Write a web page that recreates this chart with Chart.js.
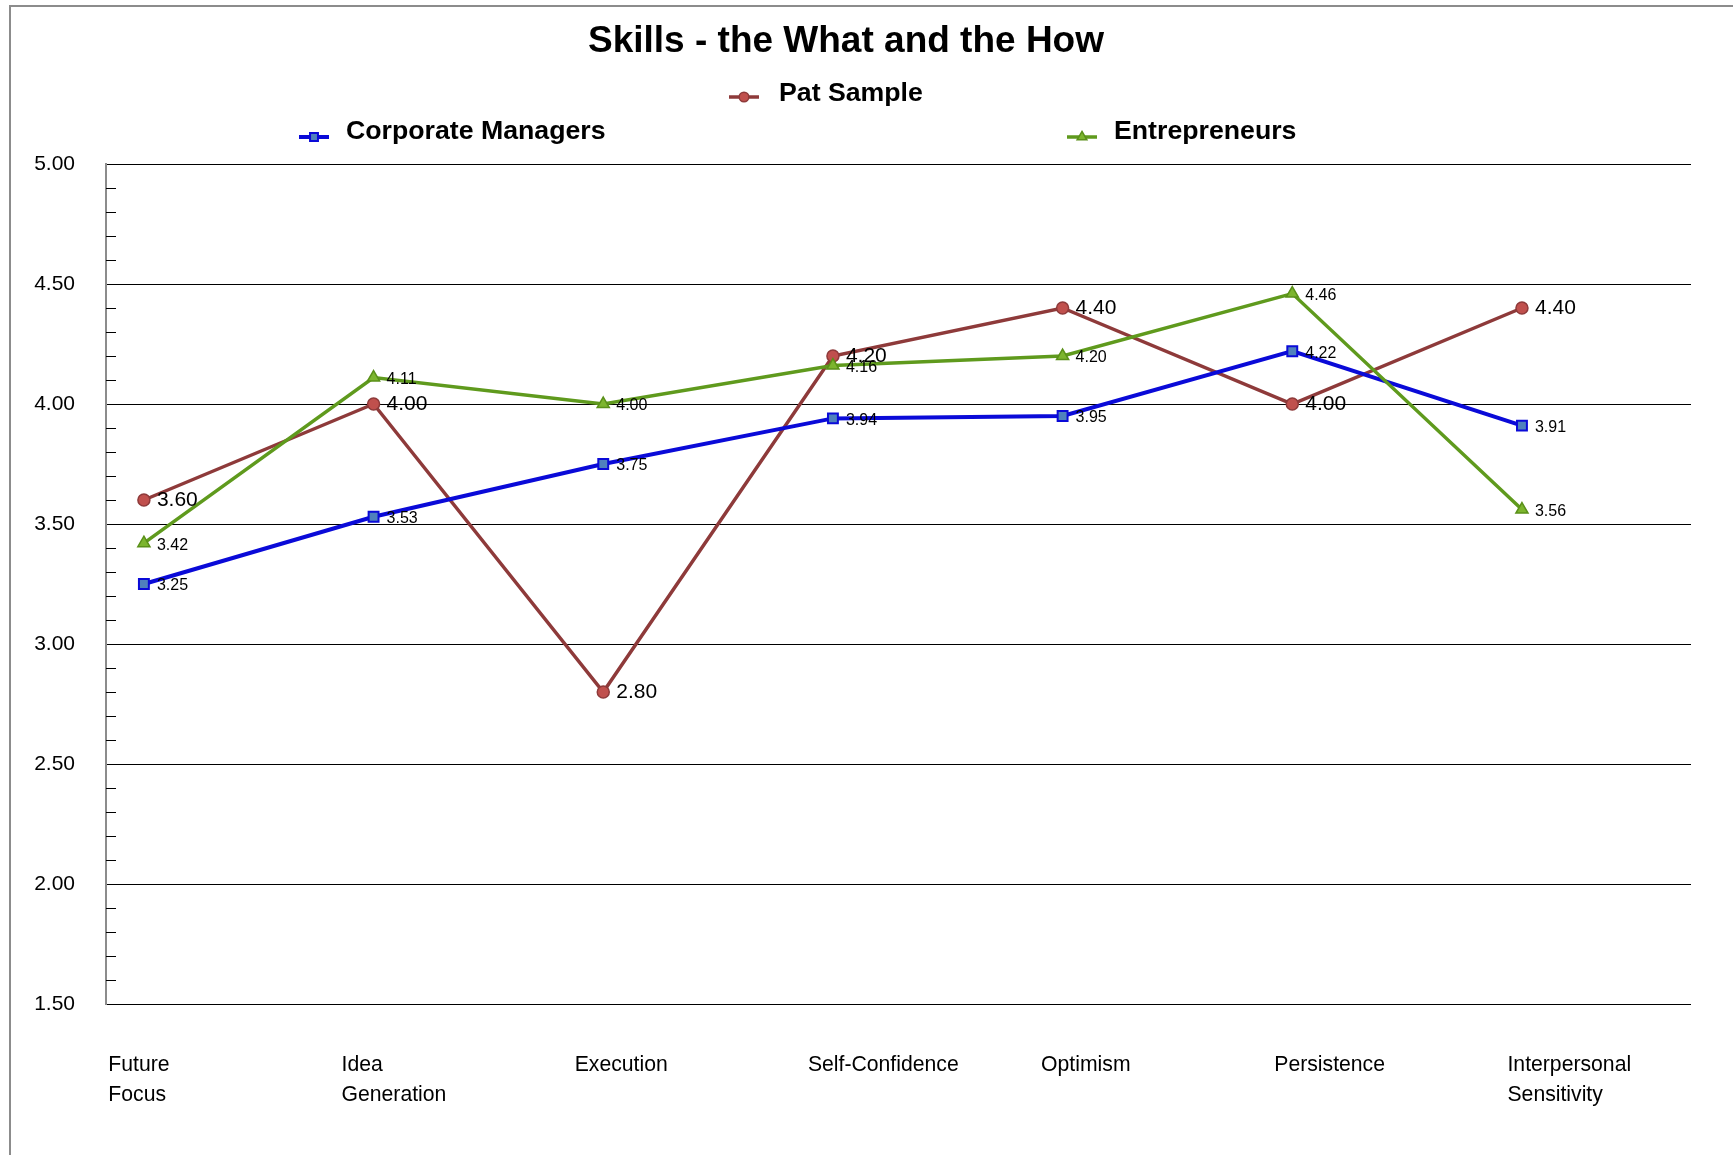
<!DOCTYPE html>
<html>
<head>
<meta charset="utf-8">
<title>Skills - the What and the How</title>
<script src="https://cdn.jsdelivr.net/npm/chart.js@4.4.1/dist/chart.umd.min.js"></script>
<style>
  html, body { margin: 0; padding: 0; background: #fff; }
  #wrap { position: relative; width: 1733px; height: 1155px; }
</style>
</head>
<body>
<div id="wrap"><canvas id="chartLine"></canvas></div>
<script>
// Data dari gambar
const categories = ["Future Focus", "Idea Generation", "Execution", "Self-Confidence", "Optimism", "Persistence", "Interpersonal Sensitivity"];
const patSample = [3.60, 4.00, 2.80, 4.20, 4.40, 4.00, 4.40];
const corporateManagers = [3.25, 3.53, 3.75, 3.94, 3.95, 4.22, 3.91];
const entrepreneurs = [3.42, 4.11, 4.00, 4.16, 4.20, 4.46, 3.56];
const yTicks = [1.5, 2.0, 2.5, 3.0, 3.5, 4.0, 4.5, 5.0];

const FONT = "'Liberation Sans', Arial, sans-serif";
Chart.defaults.font.family = FONT;
Chart.defaults.color = "#000";

function toPoints(values) {
  return values.map((v, i) => ({ x: i, y: v }));
}

// Bingkai, judul dan legenda
const frameAndLegend = {
  id: "frameAndLegend",
  beforeDraw(chart) {
    const ctx = chart.ctx;
    ctx.save();
    ctx.fillStyle = "#8c8c8c";
    ctx.fillRect(9, 5, 2, chart.height);
    ctx.fillRect(9, 5, chart.width, 2);
    ctx.restore();
  },
  afterDraw(chart) {
    const ctx = chart.ctx;
    ctx.save();
    ctx.fillStyle = "#000";
    ctx.textAlign = "center";
    ctx.textBaseline = "middle";
    ctx.font = "bold 37px " + FONT;
    ctx.fillText("Skills - the What and the How", 846, 42);

    const spots = [
      { label: "Pat Sample", mx: 744, my: 97, tx: 779, ty: 94 },
      { label: "Corporate Managers", mx: 314, my: 137, tx: 346, ty: 132 },
      { label: "Entrepreneurs", mx: 1082, my: 137, tx: 1114, ty: 132 }
    ];
    spots.forEach(s => {
      const ds = chart.data.datasets.find(d => d.label === s.label);
      ctx.strokeStyle = ds.borderColor;
      ctx.lineWidth = ds.borderWidth;
      ctx.beginPath();
      ctx.moveTo(s.mx - 15, s.my);
      ctx.lineTo(s.mx + 15, s.my);
      ctx.stroke();
      ctx.fillStyle = ds.pointBackgroundColor;
      ctx.strokeStyle = ds.pointBorderColor;
      ctx.lineWidth = ds.pointBorderWidth;
      Chart.helpers.drawPoint(ctx, {
        pointStyle: ds.pointStyle, radius: ds.pointRadius * 0.8, rotation: 0, borderWidth: ds.pointBorderWidth
      }, s.mx, s.my);
      ctx.fillStyle = "#000";
      ctx.textAlign = "left";
      ctx.textBaseline = "middle";
      ctx.font = "bold 26.7px " + FONT;
      ctx.fillText(s.label, s.tx, s.ty);
    });
    ctx.restore();
  }
};

// Tick kecil di sumbu Y dan label nilai
const minorTicksAndLabels = {
  id: "minorTicksAndLabels",
  afterDatasetsDraw(chart) {
    const ctx = chart.ctx;
    const y = chart.scales.y;
    const left = chart.chartArea.left;
    ctx.save();
    ctx.strokeStyle = "#000";
    ctx.lineWidth = 1;
    for (let k = 0; k < yTicks.length - 1; k++) {
      const step = (yTicks[k + 1] - yTicks[k]) / 5;
      for (let j = 1; j < 5; j++) {
        const py = Math.round(y.getPixelForValue(yTicks[k] + step * j)) + 0.5;
        ctx.beginPath();
        ctx.moveTo(left, py);
        ctx.lineTo(left + 10, py);
        ctx.stroke();
      }
    }

    chart.data.datasets.forEach((ds, di) => {
      const meta = chart.getDatasetMeta(di);
      ctx.fillStyle = "#000";
      ctx.textAlign = "left";
      ctx.textBaseline = "middle";
      ctx.font = ds.labelSize + "px " + FONT;
      meta.data.forEach((pt, i) => {
        ctx.fillText(ds.data[i].y.toFixed(2), pt.x + 13, pt.y + ds.labelShift);
      });
    });
    ctx.restore();
  }
};

const ctx = document.getElementById("chartLine").getContext("2d");
new Chart(ctx, {
  type: "line",
  data: {
    datasets: [
      {
        label: "Entrepreneurs",
        data: toPoints(entrepreneurs),
        borderColor: "#5f9a1d",
        borderWidth: 3.5,
        pointStyle: "triangle",
        pointRadius: 7,
        pointBackgroundColor: "#7cb52e",
        pointBorderColor: "#5a9019",
        pointBorderWidth: 1.5,
        labelSize: 16,
        labelShift: 2
      },
      {
        label: "Corporate Managers",
        data: toPoints(corporateManagers),
        borderColor: "#0a0ad8",
        borderWidth: 4,
        pointStyle: "rect",
        pointRadius: 7,
        pointBackgroundColor: "#4f81bd",
        pointBorderColor: "#0a0ad8",
        pointBorderWidth: 2,
        labelSize: 16,
        labelShift: 2
      },
      {
        label: "Pat Sample",
        data: toPoints(patSample),
        borderColor: "#8e3a3a",
        borderWidth: 3.5,
        pointStyle: "circle",
        pointRadius: 6,
        pointBackgroundColor: "#c0504d",
        pointBorderColor: "#8e3a3a",
        pointBorderWidth: 1.5,
        labelSize: 21,
        labelShift: 0
      }
    ]
  },
  options: {
    responsive: true,
    maintainAspectRatio: false,
    animation: false,
    layout: { padding: { top: 164, left: 10, right: 42, bottom: 0 } },
    plugins: {
      legend: { display: false },
      title: { display: false },
      tooltip: { enabled: false }
    },
    elements: { line: { tension: 0 } },
    scales: {
      // sumbu untuk posisi titik
      x: {
        type: "linear",
        display: false,
        min: -0.165,
        max: 6.736
      },
      // sumbu untuk label kategori
      xLabels: {
        type: "linear",
        position: "bottom",
        min: -0.01,
        max: 6.787,
        grid: { display: false, drawTicks: false },
        border: { display: false },
        afterBuildTicks(scale) {
          scale.ticks = categories.map((c, i) => ({ value: i }));
        },
        afterFit(scale) {
          scale.height = 151;
          scale.paddingLeft = 0;
          scale.paddingRight = 0;
        },
        ticks: {
          autoSkip: false,
          maxRotation: 0,
          align: "start",
          padding: 46,
          font: { size: 21.2, lineHeight: 1.42 },
          callback: (v) => categories[v] ? categories[v].split(" ") : ""
        }
      },
      y: {
        min: yTicks[0],
        max: yTicks[yTicks.length - 1],
        afterBuildTicks(scale) {
          scale.ticks = yTicks.map(v => ({ value: v }));
        },
        afterFit(scale) {
          scale.width = 96;
          scale.paddingTop = 0;
          scale.paddingBottom = 0;
        },
        grid: { color: "#000", lineWidth: 1, drawTicks: false },
        border: { display: true, color: "#8c8c8c", width: 2 },
        ticks: {
          padding: 31,
          font: { size: 21 },
          callback: (v) => Number(v).toFixed(2)
        }
      }
    }
  },
  plugins: [frameAndLegend, minorTicksAndLabels]
});
</script>
</body>
</html>
